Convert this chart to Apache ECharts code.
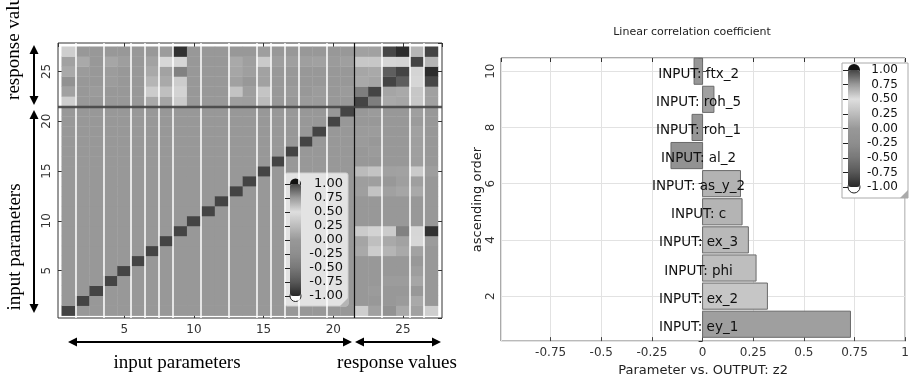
<!DOCTYPE html>
<html>
<head>
<meta charset="utf-8">
<script src="https://cdn.jsdelivr.net/npm/echarts@6/dist/echarts.min.js"></script>
<style>
  html, body { margin: 0; padding: 0; background: #fff; }
  #main { width: 912px; height: 382px; }
</style>
</head>
<body>
<div id="main"></div>
<script>
// --- left panel: correlation matrix (21 input parameters + 6 response values) ---
const inputCount = 21;
// rows = response values 22..27, columns = input parameters 1..21
const resp22 = [0.38, 0, 0, 0, 0, 0, 0.12, 0.09, 0.36, 0, 0, 0, 0.05, 0.04, 0.24, 0, 0, 0.02, 0.02, 0, 0];
const resp23 = [0.06, 0, 0.02, 0, 0, 0, 0.37, 0.27, 0.42, 0, 0, 0, 0.3, 0.05, 0.31, 0, 0.02, 0, 0.03, 0, 0.02];
const resp24 = [-0.15, 0, 0, 0.03, 0, 0, 0.2, 0.12, 0.37, 0, 0, 0, 0.06, 0, 0.06, 0, 0, 0, 0, 0, 0];
const resp25 = [0.12, 0.02, 0, 0.03, 0, 0, 0.12, 0.07, -0.4, 0, 0, 0, 0.1, 0.05, 0.07, 0, 0, 0, 0, 0, 0];
const resp26 = [0.06, 0.12, 0, 0.1, 0.04, 0, 0.07, 0.45, 0.53, 0, 0, 0, 0.12, 0.05, 0.35, 0.04, 0.05, 0.05, 0.06, 0.02, 0.05];
const resp27 = [0.38, 0, 0, 0, 0, 0, 0, 0.03, -0.95, 0, 0, 0, 0, 0, 0.04, 0, 0, 0, 0, 0, 0];
const respVsInput = [resp22, resp23, resp24, resp25, resp26, resp27];
// response vs response (22..27)
const respVsResp = [
  [1, 0.83, 0.12, 0.1, 0.33, 0.06],
  [0.83, 1, 0.09, 0.12, 0.33, 0.06],
  [0.12, 0.09, 1, -0.7, 0.53, 0.99],
  [0.1, 0.12, -0.7, 1, 0.43, -0.98],
  [0.33, 0.33, 0.53, 0.43, 1, 0.2],
  [0.06, 0.06, 0.99, -0.98, 0.2, 1]
];
const colBreaks = [1.5, 3.5, 5.5, 6.5, 7.5, 8.5, 10.5, 12.5, 14.5, 15.5, 16.5, 17.5, 19.5, 23.5, 25.5, 26.5];
const groupBreak = 21.5;

// --- right panel: linear correlation coefficient vs OUTPUT z2 ---
const barNames = ['INPUT: ey_1', 'INPUT: ex_2', 'INPUT: phi', 'INPUT: ex_3', 'INPUT: c',
  'INPUT: as_y_2', 'INPUT: al_2', 'INPUT: roh_1', 'INPUT: roh_5', 'INPUT: ftx_2'];
const barValues = [0.73, 0.32, 0.264, 0.226, 0.195, 0.187, -0.156, -0.052, 0.056, -0.042];
const barOrder = [1, 2, 3, 4, 5, 6, 7, 8, 9, 10];

// grey colour scale from -1 to 1
const grayScale = ['#282828', '#585858', '#787878', '#8e8e8e', '#989898', '#bcbcbc', '#dedede', '#9a9a9a', '#444444'];

function corr(i, j) {
  if (i <= inputCount && j <= inputCount) return i === j ? 1 : 0;
  if (i > inputCount && j > inputCount) return respVsResp[i - 22][j - 22];
  if (i > inputCount) return respVsInput[i - 22][j - 1];
  return respVsInput[j - 22][i - 1];
}
const size = inputCount + respVsResp.length;
const heatData = [];
for (let x = 1; x <= size; x++) {
  for (let y = 1; y <= size; y++) heatData.push([x, y, corr(x, y)]);
}
const barData = barValues.map((v, i) => [v, barOrder[i]]);

const sans = 'DejaVu Sans';
const serif = 'Liberation Serif';

function arrow(x1, y1, x2, y2) {
  const len = Math.hypot(x2 - x1, y2 - y1), ux = (x2 - x1) / len, uy = (y2 - y1) / len;
  const h = 9, w = 4.5;
  const head = (px, py, dx, dy) => ({
    type: 'polygon', z: 10,
    shape: { points: [[px, py], [px - dx * h - dy * w, py - dy * h + dx * w], [px - dx * h + dy * w, py - dy * h - dx * w]] },
    style: { fill: '#000' }
  });
  return [
    { type: 'line', z: 10, shape: { x1: x1 + ux * 4, y1: y1 + uy * 4, x2: x2 - ux * 4, y2: y2 - uy * 4 }, style: { stroke: '#000', lineWidth: 2 } },
    head(x2, y2, ux, uy),
    head(x1, y1, -ux, -uy)
  ];
}
function label(text, x, y, rot) {
  return {
    type: 'text', z: 10, x: x, y: y, rotation: rot ? Math.PI / 2 : 0,
    style: { text: text, font: '19px "' + serif + '"', fill: '#000', textAlign: 'center', textVerticalAlign: 'middle' }
  };
}

const frameAxis = {
  axisLine: { show: false },
  axisLabel: { show: false },
  axisTick: { inside: true, length: 4, lineStyle: { color: '#333' } },
  splitLine: { show: false }
};

const chart = echarts.init(document.getElementById('main'), null, { renderer: 'canvas' });
chart.setOption({
  animation: false,
  title: {
    text: 'Linear correlation coefficient', left: 692, top: 27, padding: 0, textAlign: 'center',
    textStyle: { fontFamily: sans, fontSize: 11, fontWeight: 'normal', color: '#222' }
  },
  grid: [
    { left: 58, top: 43, width: 384, height: 275, show: true, borderColor: '#333', borderWidth: 1 },
    { left: 501, top: 58, width: 407, height: 289, show: true, borderColor: '#555', borderWidth: 1 },
    { left: 290, top: 184, width: 11, height: 112 },
    { left: 848, top: 70, width: 12, height: 117 }
  ],
  xAxis: [
    {
      type: 'value', gridIndex: 0, min: 0.25, max: 27.8, minInterval: 5, maxInterval: 5,
      axisLine: { show: false }, splitLine: { show: false },
      axisTick: { inside: true, length: 4, lineStyle: { color: '#333' } },
      axisLabel: { showMinLabel: false, showMaxLabel: false, fontFamily: sans, fontSize: 12, color: '#333', margin: 6 }
    },
    Object.assign({ type: 'value', gridIndex: 0, position: 'top', min: 0.25, max: 27.8, minInterval: 5, maxInterval: 5 }, frameAxis),
    {
      type: 'value', gridIndex: 1, min: -0.995, max: 1, minInterval: 0.25, maxInterval: 0.25,
      name: 'Parameter vs. OUTPUT: z2', nameLocation: 'middle', nameGap: 21,
      nameTextStyle: { fontFamily: sans, fontSize: 13, color: '#222' },
      axisLine: { show: false },
      splitLine: { show: true, lineStyle: { color: '#e2e2e2', width: 1 } },
      axisTick: { inside: true, length: 4, lineStyle: { color: '#444' } },
      axisLabel: { showMinLabel: false, showMaxLabel: true, fontFamily: sans, fontSize: 12, color: '#333', margin: 6 }
    },
    Object.assign({ type: 'value', gridIndex: 1, position: 'top', min: -0.995, max: 1, minInterval: 0.25, maxInterval: 0.25 }, frameAxis),
    { type: 'value', gridIndex: 2, show: false, min: 0, max: 1 },
    { type: 'value', gridIndex: 3, show: false, min: 0, max: 1 }
  ],
  yAxis: [
    {
      type: 'value', gridIndex: 0, min: 0.25, max: 27.85, minInterval: 5, maxInterval: 5,
      axisLine: { show: false }, splitLine: { show: false },
      axisTick: { inside: true, length: 4, lineStyle: { color: '#333' } },
      axisLabel: { rotate: 90, showMinLabel: false, showMaxLabel: false, fontFamily: sans, fontSize: 12, color: '#333', margin: 5 }
    },
    Object.assign({ type: 'value', gridIndex: 0, position: 'right', min: 0.25, max: 27.85, minInterval: 5, maxInterval: 5 }, frameAxis),
    {
      type: 'value', gridIndex: 1, min: 0.4, max: 10.47, minInterval: 2, maxInterval: 2,
      name: 'ascending order', nameLocation: 'middle', nameGap: 16, nameRotate: 90,
      nameTextStyle: { fontFamily: sans, fontSize: 13, color: '#222' },
      axisLine: { show: false },
      splitLine: { show: true, lineStyle: { color: '#e2e2e2', width: 1 } },
      axisTick: { inside: true, length: 4, lineStyle: { color: '#444' } },
      axisLabel: { rotate: 90, showMinLabel: false, showMaxLabel: false, fontFamily: sans, fontSize: 12, color: '#333', margin: 4 }
    },
    Object.assign({ type: 'value', gridIndex: 1, position: 'right', min: 0.4, max: 10.47, minInterval: 2, maxInterval: 2 }, frameAxis),
    {
      type: 'value', gridIndex: 2, position: 'right', min: -1, max: 1, interval: 0.25, z: 8,
      axisLine: { show: false }, splitLine: { show: false },
      axisTick: { inside: true, length: 5, lineStyle: { color: '#222' } },
      axisLabel: { align: 'right', margin: 42, fontFamily: sans, fontSize: 13, color: '#111', formatter: v => v.toFixed(2) }
    },
    {
      type: 'value', gridIndex: 3, position: 'right', min: -1, max: 1, interval: 0.25, z: 8,
      axisLine: { show: false }, splitLine: { show: false },
      axisTick: { inside: true, length: 5, lineStyle: { color: '#222' } },
      axisLabel: { align: 'right', margin: 38, fontFamily: sans, fontSize: 12, color: '#111', formatter: v => v.toFixed(2) }
    }
  ],
  visualMap: [
    {
      type: 'continuous', min: -1, max: 1, dimension: 2, seriesIndex: 0,
      orient: 'vertical', left: 290, top: 184, itemWidth: 11, itemHeight: 112, padding: 0,
      calculable: false, text: null, z: 6, inRange: { color: grayScale }
    },
    {
      type: 'continuous', min: -1, max: 1, dimension: 0, seriesIndex: 1,
      orient: 'vertical', left: 848, top: 70, itemWidth: 12, itemHeight: 117, padding: 0,
      calculable: false, text: null, z: 6, inRange: { color: grayScale }
    }
  ],
  series: [
    {
      type: 'custom', xAxisIndex: 0, yAxisIndex: 0, data: heatData, encode: { x: 0, y: 1 },
      renderItem: (params, api) => {
        const p0 = api.coord([api.value(0) - 0.5, api.value(1) + 0.5]);
        const p1 = api.coord([api.value(0) + 0.5, api.value(1) - 0.5]);
        return {
          type: 'rect',
          shape: { x: p0[0], y: p0[1], width: p1[0] - p0[0] + 0.4, height: p1[1] - p0[1] + 0.4 },
          style: { fill: api.visual('color') }
        };
      },
      markLine: {
        silent: true, symbol: 'none', label: { show: false },
        data: colBreaks.map(b => ({ xAxis: b, lineStyle: { color: '#ffffff', width: 1.5, type: 'solid' } }))
          .concat([
            { xAxis: groupBreak, lineStyle: { color: '#111', width: 1.2, type: 'solid' } },
            { yAxis: groupBreak, lineStyle: { color: '#454545', width: 2.4, type: 'solid', opacity: 0.9 } }
          ])
      }
    },
    {
      type: 'custom', xAxisIndex: 2, yAxisIndex: 2, data: barData, encode: { x: 0, y: 1 },
      renderItem: (params, api) => {
        const v = api.value(0), o = api.value(1);
        const p0 = api.coord([0, o + 0.465]);
        const p1 = api.coord([v, o - 0.465]);
        const c = api.coord([0, o]);
        return {
          type: 'group',
          children: [
            {
              type: 'rect',
              shape: { x: Math.min(p0[0], p1[0]), y: p0[1], width: Math.abs(p1[0] - p0[0]), height: p1[1] - p0[1] },
              style: { fill: api.visual('color'), stroke: '#6a6a6a', lineWidth: 1 }
            },
            {
              type: 'text', x: c[0] - 4, y: c[1] + 3, z2: 10,
              style: { text: barNames[params.dataIndex], font: '13.5px "' + sans + '"', fill: '#111', textAlign: 'center', textVerticalAlign: 'middle' }
            }
          ]
        };
      }
    }
  ],
  graphic: [
    // colour bar boxes
    { type: 'rect', z: 3, shape: { x: 285, y: 173, width: 63, height: 133, r: 2 }, style: { fill: '#e3e3e3', stroke: '#d0d0d0' } },
    { type: 'polygon', z: 3, shape: { points: [[340, 306], [348, 298], [348, 306]] }, style: { fill: '#b5b5b5' } },
    { type: 'circle', z: 3, shape: { cx: 295.5, cy: 184, r: 5.5 }, style: { fill: '#111' } },
    { type: 'circle', z: 3, shape: { cx: 295.5, cy: 296, r: 5.5 }, style: { fill: '#fff', stroke: '#222' } },
    { type: 'rect', z: 3, shape: { x: 842, y: 63, width: 66, height: 135 }, style: { fill: '#fff', stroke: '#aaa' } },
    { type: 'polygon', z: 3, shape: { points: [[900, 198], [908, 190], [908, 198]] }, style: { fill: '#aaa' } },
    { type: 'circle', z: 3, shape: { cx: 854, cy: 70, r: 6 }, style: { fill: '#111' } },
    { type: 'circle', z: 3, shape: { cx: 854, cy: 187, r: 6 }, style: { fill: '#fff', stroke: '#222' } },
    // annotations of the matrix
    ...arrow(34, 45, 34, 105),
    ...arrow(34, 110, 34, 313),
    ...arrow(68, 342, 352, 342),
    ...arrow(355, 342, 441, 342),
    label('response values', 14, 40, true),
    label('input parameters', 15, 247, true),
    label('input parameters', 177, 363, false),
    label('response values', 397, 363, false)
  ]
});
</script>
</body>
</html>
